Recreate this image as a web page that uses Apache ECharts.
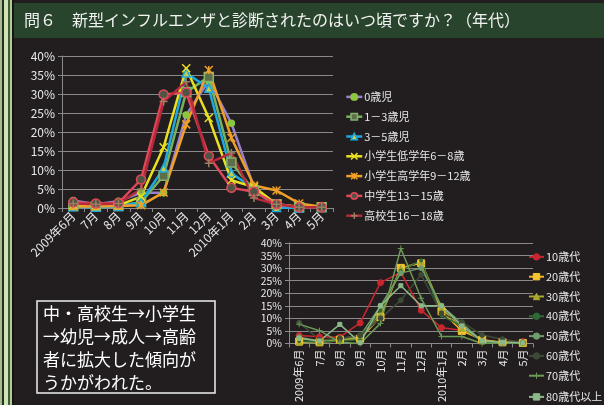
<!doctype html>
<html>
<head>
<meta charset="utf-8">
<title>問6 新型インフルエンザ</title>
<style>
  html, body { margin: 0; padding: 0; background: #221e1f; }
  #main { width: 604px; height: 405px; }
</style>
</head>
<body>
<div id="main"></div>
<script src="https://cdn.jsdelivr.net/npm/echarts@6/dist/echarts.min.js"></script>
<script>
// 月（横軸）
var months = ['2009年6月', '7月', '8月', '9月', '10月', '11月', '12月', '2010年1月', '2月', '3月', '4月', '5月'];

// 上のグラフ：子ども（%）
var age0 = [2.0, 1.0, 1.8, 4.0, 4.0, 24.5, 33.5, 22.3, 5.5, 0.5, 0.0, 0.2];
var age1to3 = [0.5, 0.3, 0.5, 1.5, 8.5, 30.5, 34.5, 12.0, 4.5, 1.0, 0.2, 0.2];
var age3to5 = [0.3, 0.2, 0.4, 1.5, 10.5, 35.5, 31.5, 9.2, 5.0, 0.1, 0.0, 0.2];
var elemLow = [0.8, 0.6, 0.7, 3.0, 16.0, 36.8, 23.7, 7.3, 5.5, 1.0, 0.3, 0.3];
var elemHigh = [0.4, 0.4, 0.5, 0.7, 4.1, 22.0, 36.3, 18.5, 5.9, 4.6, 1.2, 0.3];
var junior = [1.5, 1.2, 1.3, 7.5, 29.9, 30.4, 13.7, 5.3, 4.3, 1.0, 0.2, 0.2];
var highSchool = [1.2, 1.0, 1.2, 5.0, 28.0, 33.2, 11.8, 14.5, 2.6, 1.0, 0.2, 0.2];

// 下のグラフ：大人（%）
var teens = [3.2, 2.7, 2.5, 8.2, 24.2, 28.3, 13.2, 6.3, 5.3, 1.5, 0.3, 0.8];
var twenties = [0.8, 0.5, 1.5, 1.9, 10.5, 30.1, 31.9, 12.8, 5.0, 1.5, 0.5, 0.2];
var thirties = [0.5, 0.3, 1.2, 2.5, 12.0, 30.0, 32.5, 14.0, 6.0, 1.0, 0.3, 0.2];
var forties = [1.0, 0.5, 1.0, 1.5, 13.0, 29.0, 33.0, 11.0, 7.0, 0.5, 0.2, 0.1];
var fifties = [2.5, 1.0, 2.0, 3.0, 15.0, 28.0, 30.0, 15.0, 8.0, 1.0, 0.5, 0.3];
var sixties = [8.3, 1.5, 2.0, 3.3, 10.0, 17.2, 27.4, 12.0, 8.5, 3.4, 1.7, 0.5];
var seventies = [7.7, 5.1, 0.5, 0.0, 8.0, 37.8, 18.0, 2.8, 2.8, 0.0, 0.2, 0.2];
var eighties = [2.0, 1.0, 7.6, 0.3, 15.0, 23.0, 15.0, 15.0, 7.0, 1.0, 0.5, 0.3];

var FONT = '"Noto Sans CJK JP", "Noto Sans", sans-serif';
var xMark = 'path://M0 0L10 10M10 0L0 10';
var plusMark = 'path://M5 0L5 10M0 5L10 5';
var starMark = 'path://M0 0L10 10M10 0L0 10M5 0L5 10';

var topLegend = [];
var lowLegend = [];

function topLine(name, data, color, symbol, size, fill, border) {
	var item = { color: fill || color, borderColor: border || color, borderWidth: 1.5 };
	topLegend.push({ name: name, lineStyle: { color: color, width: 2.5 }, itemStyle: item });
	return {
		name: name, type: 'line', data: data, xAxisIndex: 0, yAxisIndex: 0,
		symbol: symbol, symbolSize: size,
		lineStyle: { color: color, width: 2.5 },
		itemStyle: item
	};
}
function lowLine(name, data, color, symbol, size, fill) {
	var item = { color: fill || color, borderColor: fill || color, borderWidth: 1 };
	lowLegend.push({ name: name, lineStyle: { color: color, width: 2 }, itemStyle: item });
	return {
		name: name, type: 'line', data: data, xAxisIndex: 1, yAxisIndex: 1,
		symbol: symbol, symbolSize: size,
		lineStyle: { color: color, width: 1.5 },
		itemStyle: item
	};
}

function yAxisOf(idx, fs) {
	return {
		type: 'value', gridIndex: idx, min: 0, max: 40, interval: 5,
		axisLabel: { formatter: '{value}%', color: '#e8e8e8', fontSize: fs, fontFamily: FONT, margin: 7 },
		axisLine: { show: true, lineStyle: { color: '#8a8a8a' } },
		axisTick: { show: true, length: 4, lineStyle: { color: '#8a8a8a' } },
		splitLine: { lineStyle: { color: '#8a8a8a', width: 1 } }
	};
}
function xAxisOf(idx, rot, fs) {
	return {
		type: 'category', gridIndex: idx, data: months, boundaryGap: true,
		axisLabel: { rotate: rot, color: '#e8e8e8', fontSize: fs, fontFamily: FONT, interval: 0, margin: 6 },
		axisLine: { lineStyle: { color: '#8a8a8a' } },
		axisTick: { show: true, length: 4, lineStyle: { color: '#8a8a8a' } }
	};
}

var series = [
	topLine('0歳児', age0, '#9a80c8', 'circle', 6, '#8dc63f', '#8dc63f'),
	topLine('1－3歳児', age1to3, '#78b060', 'rect', 9, '#5f6e4a', '#82b46c'),
	topLine('3－5歳児', age3to5, '#1ea8e0', 'triangle', 8, '#c8d040', '#1ea8e0'),
	topLine('小学生低学年6－8歳', elemLow, '#e8e020', xMark, 8),
	topLine('小学生高学年9－12歳', elemHigh, '#f0a028', starMark, 8),
	topLine('中学生13－15歳', junior, '#e04858', 'circle', 9, '#4e5545', '#e04858'),
	topLine('高校生16－18歳', highSchool, '#b52a3a', plusMark, 8, '#9a8060', '#9a8060'),
	lowLine('10歳代', teens, '#c8262e', 'circle', 6),
	lowLine('20歳代', twenties, '#f5b325', 'rect', 7, '#f5c530'),
	lowLine('30歳代', thirties, '#a8aa30', 'triangle', 6),
	lowLine('40歳代', forties, '#2f6a35', 'circle', 3),
	lowLine('50歳代', fifties, '#6e9c6a', 'circle', 5),
	lowLine('60歳代', sixties, '#3e4a36', 'circle', 5),
	lowLine('70歳代', seventies, '#6a9a55', plusMark, 6),
	lowLine('80歳代以上', eighties, '#8db88a', 'rect', 4)
];

function legendOf(left, top, data, w) {
	return {
		orient: 'vertical', left: left, top: top, padding: 0,
		itemWidth: w, itemHeight: 8, itemGap: 8.8,
		textStyle: { color: '#e6e6e6', fontSize: 11, fontFamily: FONT, padding: [0, 0, 0, -3] },
		data: data
	};
}

var chart = echarts.init(document.getElementById('main'));
var option = {
	backgroundColor: '#221e1f',
	animation: false,
	graphic: [
		{ type: 'rect', shape: { x: 0, y: 0, width: 2, height: 405 }, style: { fill: '#a8b890' } },
		{ type: 'rect', shape: { x: 2, y: 0, width: 2, height: 405 }, style: { fill: '#203020' } },
		{ type: 'rect', shape: { x: 4, y: 0, width: 4, height: 405 }, style: { fill: '#d3e2b4' } },
		{ type: 'rect', shape: { x: 8, y: 0, width: 2, height: 405 }, style: { fill: '#3c5c3a' } },
		{ type: 'rect', shape: { x: 10, y: 0, width: 2, height: 405 }, style: { fill: '#b4cc94' } },
		{ type: 'rect', shape: { x: 12, y: 0, width: 2, height: 405 }, style: { fill: '#151515' } },
		{ type: 'rect', shape: { x: 14, y: 3, width: 590, height: 35 }, style: { fill: '#28442c' } },
		{ type: 'text', left: 24, top: 12,
			style: { text: '問６　新型インフルエンザと診断されたのはいつ頃ですか？（年代）', fill: '#f2f2f2', fontSize: 16, fontFamily: FONT } },
		{ type: 'rect', shape: { x: 37, y: 301, width: 178, height: 92 }, style: { fill: 'none', stroke: '#f0f0f0', lineWidth: 1.5 } },
		{ type: 'text', left: 43, top: 302,
			style: { text: '中・高校生→小学生\n→幼児→成人→高齢\n者に拡大した傾向が\nうかがわれた。', fill: '#ffffff', fontSize: 17, lineHeight: 23, fontFamily: FONT } }
	],
	legend: [
		legendOf(345, 91.4, topLegend, 16),
		legendOf(528, 251.4, lowLegend.slice(0, 7), 15),
		legendOf(528, 391.4, lowLegend.slice(7), 15)
	],
	grid: [
		{ left: 62, top: 56, width: 271, height: 152 },
		{ left: 289, top: 243, width: 244, height: 104 }
	],
	xAxis: [xAxisOf(0, 45, 12), xAxisOf(1, 90, 11)],
	yAxis: [yAxisOf(0, 12), yAxisOf(1, 10.5)],
	series: series
};
chart.setOption(option);
</script>
</body>
</html>
